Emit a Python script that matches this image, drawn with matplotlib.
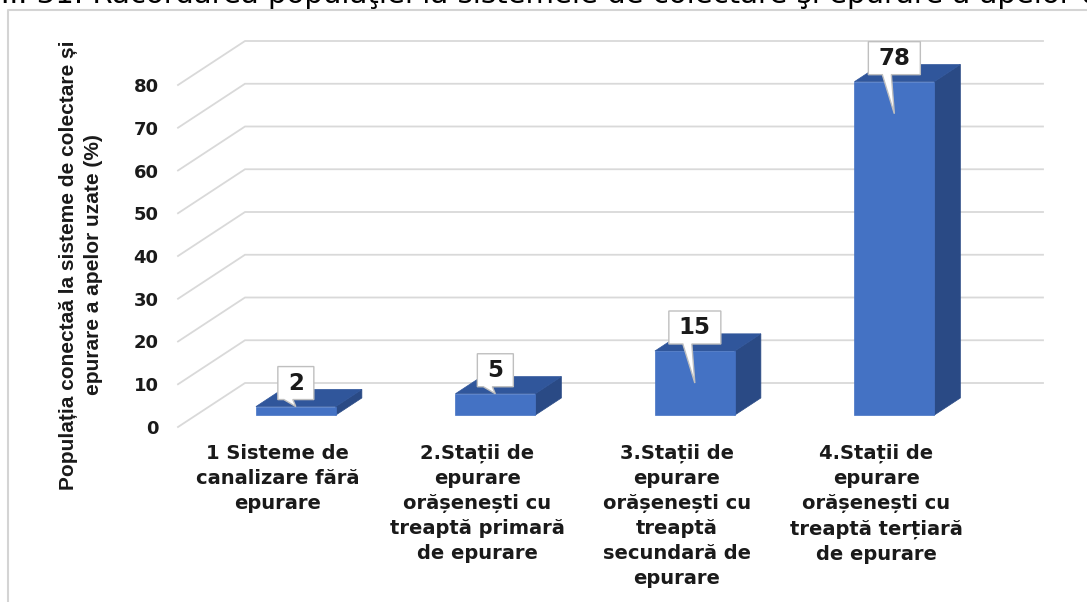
import matplotlib.pyplot as plt
from matplotlib.patches import Polygon
from matplotlib.lines import Line2D

categories = [
    "1 Sisteme de\ncanalizare fără\nepurare",
    "2.Stații de\nepurare\norășenești cu\ntreaptă primară\nde epurare",
    "3.Stații de\nepurare\norășenești cu\ntreaptă\nsecundară de\nepurare",
    "4.Stații de\nepurare\norășenești cu\ntreaptă terțiară\nde epurare",
]
values = [2, 5, 15, 78]
yticks = list(range(0, 90, 10))
ylabel = "Populația conectaă la sisteme de colectare și\nepurare a apelor uzate (%)"
title_prefix = "Figura II. 31. "
title_rest = ("Racordarea populaţiei la sistemele de colectare "
              "şi epurare a apelor uzate")

W, H = 1087, 602
fig = plt.figure(figsize=(W / 100, H / 100), dpi=100)
ax = fig.add_axes([178 / W, 1 - 427 / H, 798 / W, 342 / H])
ax.set_xlim(-0.5, 3.5)
ax.set_ylim(0, 80)

# pixel sizes of one x / y unit, used for the fake 3d depth
px_x = 798 / 4
px_y = 342 / 80
DX, DY = 67 / px_x, 44 / px_y

grid_c = "#d9d9d9"
front_c, top_c, side_c = "#4472c4", "#30569b", "#2a4a85"

# floor + back wall gridlines
for v in yticks:
    ax.plot([-0.5, -0.5 + DX, 3.5 + DX], [v, v + DY, v + DY],
            color=grid_c, lw=1.3, clip_on=False, zorder=1,
            solid_joinstyle="miter")

# 3d-looking bars
f0, f1 = 0.27, 0.66
bw = 0.40
ddx, ddy = (f1 - f0) * DX, (f1 - f0) * DY
for i, v in enumerate(values):
    x0 = i + f0 * DX - bw / 2
    x1 = x0 + bw
    y0 = f0 * DY
    y1 = y0 + v
    front = [(x0, y0), (x1, y0), (x1, y1), (x0, y1)]
    top = [(x0, y1), (x1, y1), (x1 + ddx, y1 + ddy), (x0 + ddx, y1 + ddy)]
    side = [(x1, y0), (x1 + ddx, y0 + ddy), (x1 + ddx, y1 + ddy), (x1, y1)]
    for pts, c in ((side, side_c), (top, top_c), (front, front_c)):
        ax.add_patch(Polygon(pts, closed=True, facecolor=c, edgecolor=c,
                             lw=0.5, clip_on=False, zorder=3))

    # data callout above the bar
    label = str(v)
    cx = i + f0 * DX
    bx = (20 + 16 * len(label)) / px_x / 2
    by0 = y1 + 7 / px_y
    by1 = by0 + 33 / px_y
    tip_y = y1 - (7.5 if v >= 10 else 0)
    callout = [(cx - bx, by0), (cx - bx, by1), (cx + bx, by1), (cx + bx, by0),
               (cx - 3 / px_x, by0), (cx, tip_y), (cx - 12 / px_x, by0)]
    ax.add_patch(Polygon(callout, closed=True, facecolor="white",
                         edgecolor="#bfbfbf", lw=1.0, clip_on=False,
                         zorder=6))
    ax.text(cx, (by0 + by1) / 2, label, ha="center", va="center",
            fontsize=16.5, fontweight="bold", family="DejaVu Sans",
            color="#1a1a1a", zorder=7)

for s in ax.spines.values():
    s.set_visible(False)
ax.set_yticks(yticks)
ax.set_yticklabels([str(t) for t in yticks], fontsize=13, fontweight="bold",
                   family="DejaVu Sans", color="#1a1a1a")
ax.set_xticks(range(len(categories)))
ax.set_xticklabels(categories, fontsize=14, fontweight="bold",
                   family="DejaVu Sans", color="#1a1a1a", linespacing=1.4)
ax.tick_params(axis="y", length=0, pad=14)
ax.tick_params(axis="x", length=0, pad=12)
ax.patch.set_visible(False)

fig.text(81 / W, 1 - 265 / H, ylabel, rotation=90, ha="center", va="center",
         multialignment="center", fontsize=15, fontweight="bold",
         family="Liberation Sans", color="#1a1a1a", linespacing=1.35)

# outer frame, partly cut by the page edges
fig.add_artist(Line2D([8 / W, 8 / W, 1], [0, 1 - 10 / H, 1 - 10 / H],
                      transform=fig.transFigure, color="#d4d4d4", lw=1.5))

# caption line above, cut at the top edge
renderer = fig.canvas.get_renderer()
probe = fig.text(0, 0, title_prefix.rstrip() + " R", fontsize=21,
                 family="DejaVu Sans")
r_probe = fig.text(0, 0, "R", fontsize=21, family="DejaVu Sans")
shift = (probe.get_window_extent(renderer).width
         - r_probe.get_window_extent(renderer).width)
probe.remove()
r_probe.remove()
fig.text((92 - shift) / W, 1 - 3 / H, title_prefix + title_rest, fontsize=21,
         family="DejaVu Sans", color="black", ha="left", va="baseline")

fig.savefig("out.png", dpi=100)
